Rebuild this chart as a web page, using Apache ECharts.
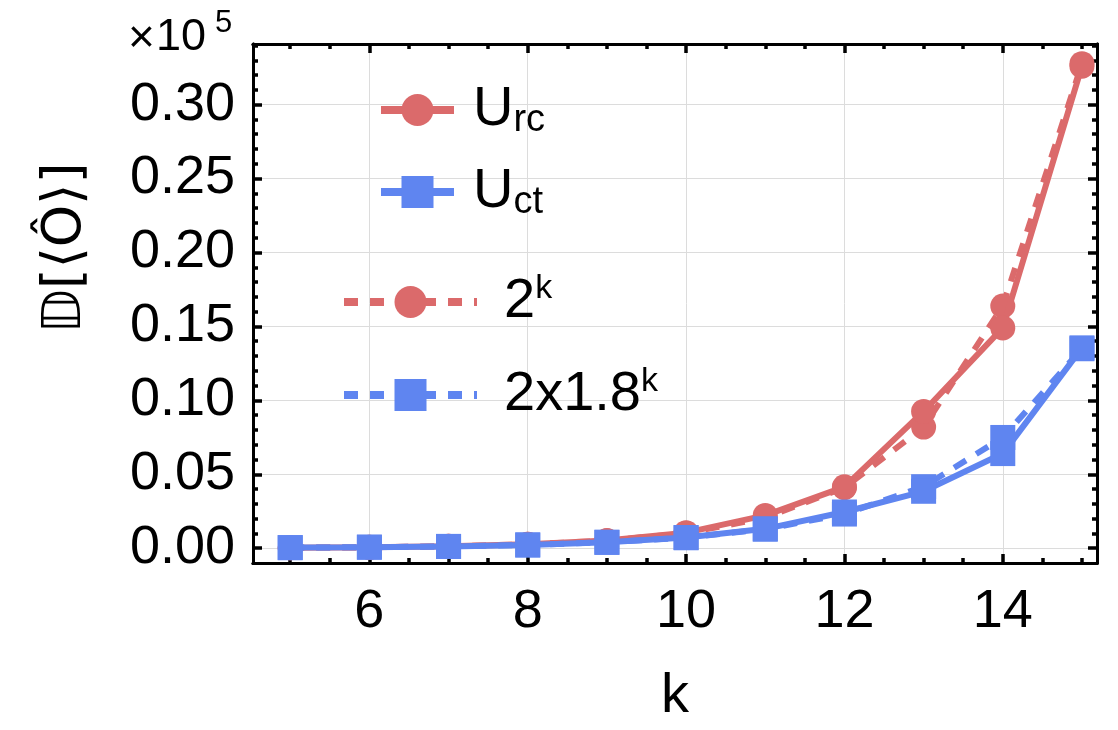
<!DOCTYPE html>
<html>
<head>
<meta charset="utf-8">
<script src="https://cdn.jsdelivr.net/npm/echarts@6/dist/echarts.min.js"></script>
<style>
  html, body { margin: 0; padding: 0; background: #fff; }
  #chart { width: 1118px; height: 730px; }
</style>
</head>
<body>
<div id="chart"></div>
<script>
// k values on the horizontal axis
const kValues = [5, 6, 7, 8, 9, 10, 11, 12, 13, 14, 15];
// variance values, in units of 10^5
const uRc   = [0.0003, 0.0006, 0.0013, 0.0026, 0.0052, 0.0105, 0.0222, 0.0415, 0.0925, 0.149, 0.326];
const uCt   = [0.0004, 0.0007, 0.0012, 0.0022, 0.0040, 0.0072, 0.0131, 0.0245, 0.0385, 0.064, 0.1355];
const pow2  = [0.0003, 0.0006, 0.0013, 0.0026, 0.0051, 0.0102, 0.0205, 0.0410, 0.0819, 0.1638, 0.3277];
const pow18 = [0.0004, 0.0007, 0.0012, 0.0022, 0.0040, 0.0071, 0.0129, 0.0231, 0.0416, 0.0749, 0.1349];

// tick positions
const xMajorTicks = [6, 8, 10, 12, 14];
const xMinorTicks = [5, 5.5, 6.5, 7, 7.5, 8.5, 9, 9.5, 10.5, 11, 11.5, 12.5, 13, 13.5, 14.5, 15];
const yMajorTicks = [0, 0.05, 0.10, 0.15, 0.20, 0.25, 0.30];
const yMinorTicks = [0.01, 0.02, 0.03, 0.04, 0.06, 0.07, 0.08, 0.09, 0.11, 0.12, 0.13, 0.14,
                     0.16, 0.17, 0.18, 0.19, 0.21, 0.22, 0.23, 0.24, 0.26, 0.27, 0.28, 0.29,
                     0.31, 0.32, 0.33, 0.34];

const X_RANGE = [4.53, 15.19];
const Y_RANGE = [-0.01, 0.341];

const RED = '#DB6A6B';
const BLUE = '#5F85F0';
const FONT = '"Liberation Sans", Arial, Helvetica, sans-serif';

const pairs = arr => kValues.map((k, i) => [k, arr[i]]);

const frameLine = { show: true, onZero: false, lineStyle: { color: '#000', width: 3 } };
const gridLine = { show: true, lineStyle: { color: '#dcdcdc', width: 1 } };

// One axis of the frame: either long (major) or short (minor) inward ticks
function frameAxis(dim, position, values, tickLen, extra) {
  const range = dim === 'x' ? X_RANGE : Y_RANGE;
  return Object.assign({
    type: 'value', position: position, min: range[0], max: range[1],
    axisLine: frameLine,
    axisTick: { show: true, inside: true, length: tickLen, customValues: values,
                lineStyle: { color: '#000', width: 3.5 } },
    axisLabel: { show: false, customValues: values },
    splitLine: { show: false },
    minorTick: { show: false }
  }, extra || {});
}

const legendRich = {
  m:   { fontSize: 56, lineHeight: 60, fontFamily: FONT, color: '#000' },
  sub: { fontSize: 38, lineHeight: 28, verticalAlign: 'bottom', fontFamily: FONT, color: '#000' },
  sup: { fontSize: 34, lineHeight: 44, verticalAlign: 'top', fontFamily: FONT, color: '#000' }
};
const legendText = {
  'U_rc': '{m|U}{sub|rc}',
  'U_ct': '{m|U}{sub|ct}',
  '2^k': '{m|2}{sup|k}',
  '2x1.8^k': '{m|2x1.8}{sup|k}'
};

const lineSeries = (name, arr, color, symbol, dashed, z) => ({
  name: name,
  type: 'line',
  xAxisIndex: 0,
  yAxisIndex: 0,
  data: pairs(arr),
  symbol: symbol,
  symbolSize: 25,
  z: z,
  clip: false,
  itemStyle: { color: color },
  lineStyle: { color: color, width: 6, type: dashed ? [14, 12] : 'solid' },
  emphasis: { disabled: true }
});

const chart = echarts.init(document.getElementById('chart'), null, { renderer: 'canvas' });
chart.setOption({
  animation: false,
  backgroundColor: '#fff',
  grid: { left: 253, right: 21, top: 44, bottom: 159 },
  xAxis: [
    frameAxis('x', 'bottom', xMajorTicks, 9, {
      splitLine: gridLine,
      axisLabel: { show: true, customValues: xMajorTicks, fontSize: 54, margin: 22,
                   color: '#000', fontFamily: FONT },
      name: 'k', nameLocation: 'middle', nameGap: 106,
      nameTextStyle: { fontSize: 56, color: '#000', fontFamily: FONT }
    }),
    frameAxis('x', 'bottom', xMinorTicks, 5),
    frameAxis('x', 'top', xMajorTicks, 9),
    frameAxis('x', 'top', xMinorTicks, 5)
  ],
  yAxis: [
    frameAxis('y', 'left', yMajorTicks, 9, {
      splitLine: gridLine,
      axisLabel: { show: true, customValues: yMajorTicks, fontSize: 54, margin: 18,
                   color: '#000', fontFamily: FONT, formatter: v => v.toFixed(2) }
    }),
    frameAxis('y', 'left', yMinorTicks, 5),
    frameAxis('y', 'right', yMajorTicks, 9),
    frameAxis('y', 'right', yMinorTicks, 5)
  ],
  legend: [
    {
      data: ['U_rc', 'U_ct'], orient: 'vertical', left: 377, top: 82, padding: 0,
      itemWidth: 73, itemHeight: 40, itemGap: 24, selectedMode: false,
      lineStyle: { width: 8 },
      formatter: n => legendText[n],
      textStyle: { padding: [0, 0, 0, 14], rich: legendRich }
    },
    {
      data: ['2^k', '2x1.8^k'], orient: 'vertical', left: 340, top: 272, padding: 0,
      itemWidth: 133, itemHeight: 40, itemGap: 35, selectedMode: false,
      lineStyle: { width: 8 },
      formatter: n => legendText[n],
      textStyle: { padding: [0, 0, 0, 22], rich: legendRich }
    }
  ],
  graphic: [
    // axis multiplier "×10^5" above the value axis
    {
      type: 'text', x: 128, y: 39, silent: true, z: 10,
      style: {
        text: '×', font: '46px ' + FONT, fill: '#000',
        textAlign: 'left', textVerticalAlign: 'middle'
      }
    },
    {
      type: 'text', x: 156, y: 38, silent: true, z: 10,
      style: {
        text: '10', font: '45px ' + FONT, fill: '#000',
        textAlign: 'left', textVerticalAlign: 'middle'
      }
    },
    {
      type: 'text', x: 215, y: 23, silent: true, z: 10,
      style: {
        text: '5', font: '31px ' + FONT, fill: '#000',
        textAlign: 'left', textVerticalAlign: 'middle'
      }
    },
    {
      type: 'text', x: 66, y: 248, rotation: Math.PI / 2, silent: true,
      style: {
        text: '𝔻[⟨Ô⟩]',
        font: '54px "DejaVu Sans", sans-serif',
        fill: '#000', textAlign: 'center', textVerticalAlign: 'middle'
      }
    }
  ],
  series: [
    lineSeries('2^k', pow2, RED, 'circle', true, 2),
    lineSeries('U_rc', uRc, RED, 'circle', false, 3),
    lineSeries('2x1.8^k', pow18, BLUE, 'rect', true, 4),
    lineSeries('U_ct', uCt, BLUE, 'rect', false, 5)
  ]
});
</script>
</body>
</html>
